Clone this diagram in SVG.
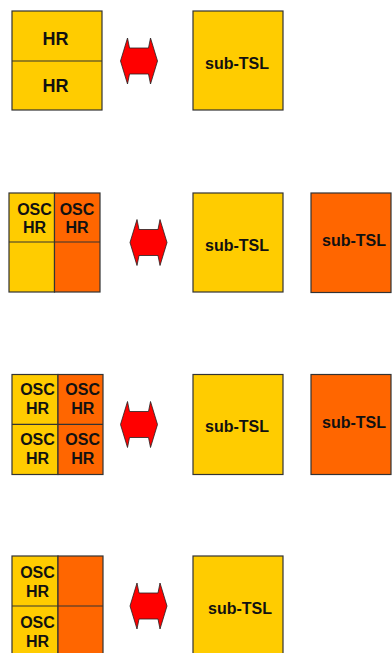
<svg xmlns="http://www.w3.org/2000/svg" width="392" height="653" viewBox="0 0 392 653">
<defs>
<style>
.y{fill:#FFCC00;stroke:#333;stroke-width:1.2}
.o{fill:#FF6600;stroke:#333;stroke-width:1.2}
.ln{stroke:#333;stroke-width:1.2;fill:none}
.t{font-family:"Liberation Sans",Arial,sans-serif;font-weight:bold;fill:#111;text-anchor:middle}
.a{fill:#FF0000;stroke:#222;stroke-width:0.8}
</style>
<path id="arr" d="M-18.5,0 L-11.5,-23 L-9.5,-13 L9.5,-13 L11.5,-23 L18.5,0 L11.5,23 L9.5,13 L-9.5,13 L-11.5,23 Z"/>
</defs>
<rect width="392" height="653" fill="#fff"/>

<g id="p1-left">
<rect class="y" x="12" y="11" width="90" height="99"/>
<line class="ln" x1="12" y1="61" x2="102" y2="61"/>
<text class="t" x="55.5" y="45" font-size="18">HR</text>
<text class="t" x="55.5" y="91.7" font-size="18">HR</text>
</g>
<g id="p1-right">
<rect class="y" x="193" y="11" width="90" height="99"/>
<text class="t" x="237" y="69.3" font-size="16">sub-TSL</text>
</g>

<g id="p2-left">
<rect class="y" x="9" y="193" width="45.5" height="99"/>
<rect class="o" x="54.5" y="193" width="45.5" height="99"/>
<line class="ln" x1="9" y1="242" x2="100" y2="242"/>
<text class="t" x="34.5" y="215" font-size="16">OSC</text>
<text class="t" x="34.5" y="233.3" font-size="16">HR</text>
<text class="t" x="77" y="215" font-size="16">OSC</text>
<text class="t" x="77" y="233.3" font-size="16">HR</text>
</g>
<g id="p2-right">
<rect class="y" x="193" y="193" width="90" height="99"/>
<text class="t" x="237" y="251" font-size="16">sub-TSL</text>
</g>
<g id="p2-far">
<rect class="o" x="311" y="193" width="80" height="99.5"/>
<text class="t" x="354" y="246" font-size="16">sub-TSL</text>
</g>

<g id="p3-left">
<rect class="y" x="12" y="374.5" width="46" height="100"/>
<rect class="o" x="58" y="374.5" width="45" height="100"/>
<line class="ln" x1="12" y1="424.3" x2="103" y2="424.3"/>
<text class="t" x="37.5" y="395" font-size="16">OSC</text>
<text class="t" x="37.5" y="414.3" font-size="16">HR</text>
<text class="t" x="82.7" y="395" font-size="16">OSC</text>
<text class="t" x="82.7" y="414.3" font-size="16">HR</text>
<text class="t" x="37.5" y="445" font-size="16">OSC</text>
<text class="t" x="37.5" y="464.3" font-size="16">HR</text>
<text class="t" x="82.7" y="445" font-size="16">OSC</text>
<text class="t" x="82.7" y="464.3" font-size="16">HR</text>
</g>
<g id="p3-right">
<rect class="y" x="193" y="374.5" width="90" height="100"/>
<text class="t" x="237" y="431.7" font-size="16">sub-TSL</text>
</g>
<g id="p3-far">
<rect class="o" x="311" y="374.5" width="80" height="100"/>
<text class="t" x="354" y="428.3" font-size="16">sub-TSL</text>
</g>

<g id="p4-left">
<rect class="y" x="12" y="556" width="46" height="100"/>
<rect class="o" x="58" y="556" width="45" height="100"/>
<line class="ln" x1="12" y1="606" x2="103" y2="606"/>
<text class="t" x="37.5" y="578.3" font-size="16">OSC</text>
<text class="t" x="37.5" y="596.7" font-size="16">HR</text>
<text class="t" x="37.5" y="627.7" font-size="16">OSC</text>
<text class="t" x="37.5" y="646.7" font-size="16">HR</text>
</g>
<g id="p4-right">
<rect class="y" x="193" y="556" width="90" height="100"/>
<text class="t" x="240" y="614" font-size="16">sub-TSL</text>
</g>

<g id="connectors">
<use href="#arr" class="a" transform="translate(139,61)"/>
<use href="#arr" class="a" transform="translate(148.5,242.5)"/>
<use href="#arr" class="a" transform="translate(139,424.5)"/>
<use href="#arr" class="a" transform="translate(148.5,606)"/>
</g>
</svg>
